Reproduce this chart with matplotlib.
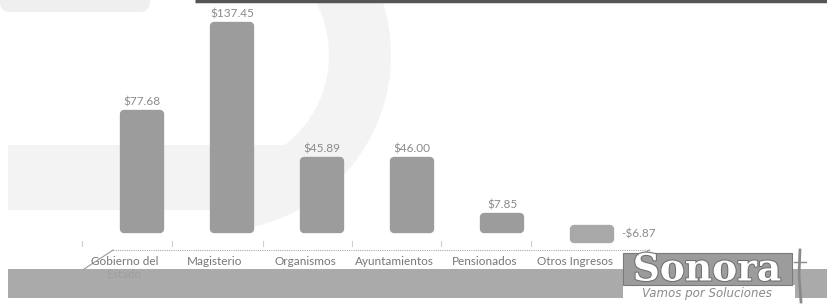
import matplotlib.pyplot as plt
import matplotlib.patches as mpatches
import matplotlib.patheffects as pe
import numpy as np

categories = ['Gobierno del\nEstado', 'Magisterio', 'Organismos', 'Ayuntamientos',
              'Pensionados', 'Otros Ingresos']
values = [77.68, 137.45, 45.89, 46.00, 7.85, -6.87]
value_labels = ['$77.68', '$137.45', '$45.89', '$46.00', '$7.85', '-$6.87']

W, H = 828, 306
fig = plt.figure(figsize=(W / 100, H / 100), dpi=100)
fig.patch.set_facecolor('white')


def px_axes(zorder):
    a = fig.add_axes([0, 0, 1, 1], zorder=zorder)
    a.set_xlim(0, W)
    a.set_ylim(H, 0)
    a.axis('off')
    a.patch.set_alpha(0)
    return a


# background watermark (pixel coords)
bg = px_axes(0)
wm = '#f3f3f3'
bg.add_patch(mpatches.Wedge((215, 55), 176, -80, 80, width=62, color=wm, lw=0))
bg.add_patch(mpatches.Rectangle((8, 145), 280, 65, color=wm, lw=0))
bg.add_patch(mpatches.FancyBboxPatch((0, -10), 150, 22, boxstyle='round,pad=0,rounding_size=10',
                                     color='#efefef', lw=0))
bg.plot([195, W], [1, 1], color='#555555', lw=2.5, solid_capstyle='butt')

# main chart
ax = fig.add_axes([52 / W, (H - 250) / H, 630 / W, 240 / H], zorder=1)
ax.patch.set_alpha(0)
ppu = 1.477
base = 229
ax.set_xlim(-1, 6)
ax.set_ylim(-(250 - base) / ppu, (base - 10) / ppu)
ax.axis('off')

x = np.arange(len(values))
bar_color = ['#9c9c9c'] * 5 + ['#a8a8a8']
ax.bar(x, values, width=0.41, color=bar_color, edgecolor=bar_color, linewidth=6,
       joinstyle='round', zorder=3)

for i, (v, lab) in enumerate(zip(values, value_labels)):
    if v >= 0:
        ax.annotate(lab, (i, v), xytext=(0, 5), textcoords='offset points',
                    ha='center', va='bottom', fontsize=8.5, color='#8a8a8a', family='Lato')
    else:
        ax.annotate(lab, (i + 0.33, v / 2), xytext=(0, 0), textcoords='offset points',
                    ha='left', va='center', fontsize=8.5, color='#8a8a8a', family='Lato')

for i, c in enumerate(categories):
    ax.annotate(c, (i - 0.19, 0), xycoords=('data', 'axes fraction'), xytext=(0, -4),
                textcoords='offset points', ha='center', va='top', fontsize=8.5,
                color='#777777', family='Lato', linespacing=1.3)

ybot = ax.get_ylim()[0]
ax.plot([-0.32, 5.64], [ybot, ybot], color='#aaaaaa', lw=0.8, ls=(0, (1, 1)), clip_on=False)
ax.plot([-0.66, -0.32], [-(270 - base) / ppu, ybot], color='#999999', lw=0.8, clip_on=False)
ax.plot([5.4, 5.64], [-(262 - base) / ppu, ybot], color='#999999', lw=0.8, clip_on=False)
for t in [-0.67, 0.33, 1.34, 2.33, 3.32, 4.32]:
    ax.plot([t, t], [-(241 - base) / ppu, -(246 - base) / ppu], color='#d0d0d0', lw=0.8,
            clip_on=False)

# foreground band and logo
fg = px_axes(3)
fg.add_patch(mpatches.Rectangle((8, 269), W - 8, 29, color='#a3a3a3', alpha=0.92, lw=0))
fg.add_patch(mpatches.Rectangle((623, 285), 172, 16, color='white', lw=0))
fg.add_patch(mpatches.Rectangle((623, 253), 169, 32, facecolor='#9c9c9c',
                                edgecolor='#7a7a7a', lw=0.8))
fg.text(707, 270, 'Sonora', ha='center', va='center', fontsize=27, fontweight='bold',
        family='DejaVu Serif', color='white',
        path_effects=[pe.withStroke(linewidth=1.5, foreground='#6f6f6f')])
fg.text(707, 294, 'Vamos por Soluciones', ha='center', va='center', fontsize=8.5,
        style='italic', color='#8a8a8a', family='DejaVu Sans')
fg.plot([800, 799, 801], [250, 275, 302], color='#8a8a8a', lw=2)
fg.plot([794, 806], [262, 262], color='#8a8a8a', lw=1)

fig.savefig('out.png', dpi=100)
